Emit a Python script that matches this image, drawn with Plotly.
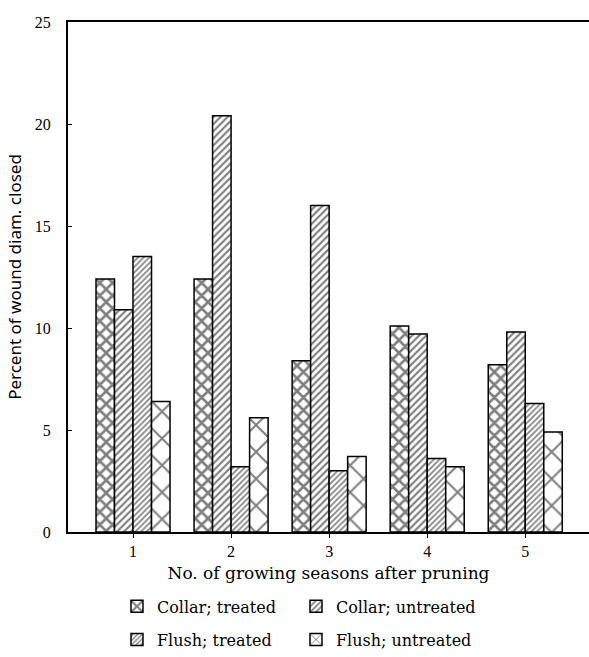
import plotly.graph_objects as go

seasons = [1, 2, 3, 4, 5]
collar_treated = [12.4, 12.4, 8.4, 10.1, 8.2]
collar_untreated = [10.9, 20.4, 16.0, 9.7, 9.8]
flush_treated = [13.5, 3.2, 3.0, 3.6, 6.3]
flush_untreated = [6.4, 5.6, 3.7, 3.2, 4.9]

SERIF = "Liberation Serif"
TITLE_SERIF = "DejaVu Serif"
SANS = "Noto Sans"

# (label, values, hatch pattern, legend slot)
series = [
    ("Collar; treated", collar_treated, dict(shape="x", size=9, solidity=0.5), "legend"),
    ("Collar; untreated", collar_untreated, dict(shape="/", size=5, solidity=0.42), "legend2"),
    ("Flush; treated", flush_treated, dict(shape="/", size=4, solidity=0.42), "legend3"),
    ("Flush; untreated", flush_untreated, dict(shape="x", size=19, solidity=0.2), "legend4"),
]

fig = go.Figure()
for name, vals, pat, leg in series:
    fig.add_trace(go.Bar(
        x=seasons, y=vals, name=name, legend=leg,
        marker=dict(
            color="white",
            line=dict(color="black", width=1.5),
            pattern=dict(fgcolor="black", bgcolor="white", fillmode="overlay", **pat),
        ),
    ))

legend_common = dict(
    orientation="h", xanchor="left", yanchor="middle",
    font=dict(family=TITLE_SERIF, size=16, color="black"),
    itemclick=False, bgcolor="rgba(0,0,0,0)",
)
col1, col2 = 0.094, 0.4376
row1, row2 = -0.146, -0.211

fig.update_layout(
    width=589, height=657,
    margin=dict(l=68, r=0, t=22, b=125),
    paper_bgcolor="white", plot_bgcolor="white",
    barmode="group", bargap=0.245, bargroupgap=0,
    font=dict(family=SERIF, size=15, color="black"),
    showlegend=True,
    legend=dict(x=col1, y=row1, **legend_common),
    legend2=dict(x=col2, y=row1, **legend_common),
    legend3=dict(x=col1, y=row2, **legend_common),
    legend4=dict(x=col2, y=row2, **legend_common),
)

fig.update_xaxes(
    range=[0.337, 5.65], tickmode="array", tickvals=seasons,
    ticks="outside", ticklen=4, tickcolor="black",
    showline=True, linecolor="black", linewidth=2, mirror=True,
    showgrid=False, zeroline=False,
    tickfont=dict(family=SERIF, size=16),
    title=dict(text="No. of growing seasons after pruning", standoff=8,
               font=dict(family=TITLE_SERIF, size=17)),
)
fig.update_yaxes(
    range=[0, 25], tickvals=[0, 5, 10, 15, 20, 25],
    ticks="inside", ticklen=4, tickcolor="black",
    showline=True, linecolor="black", linewidth=2,
    showgrid=False, zeroline=False,
    ticklabelstandoff=12,
    tickfont=dict(family=SERIF, size=16),
    title=dict(text="Percent of wound diam. closed", standoff=9,
               font=dict(family=SANS, size=17)),
)

fig.write_html("out.html")
